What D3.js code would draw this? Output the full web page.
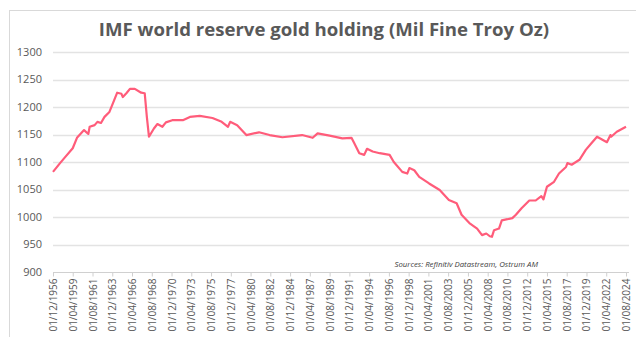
<!DOCTYPE html>
<html>
<head>
<meta charset="utf-8">
<script src="https://cdn.jsdelivr.net/npm/d3@7"></script>
<style>
  body { margin: 0; background: #fff; }
  svg { display: block; }
</style>
</head>
<body>
<div id="chart"></div>
<script>
// IMF gold holdings (month, Mil fine troy oz)
const months = [
  '1956-12','1957-10','1958-04','1959-04','1959-10','1960-08','1961-02','1961-04','1961-11','1962-03',
  '1962-08','1963-01','1963-08','1964-01','1964-07','1965-01','1965-03','1965-08','1966-01','1966-08',
  '1967-05','1967-10','1968-01','1968-04','1968-11','1969-04','1969-11','1970-04','1971-01','1972-04',
  '1973-02','1974-04','1975-10','1976-11','1977-08','1977-11','1978-09','1979-10','1981-04','1982-07',
  '1984-01','1986-05','1987-08','1988-03','1989-08','1991-02','1992-03','1992-07','1993-02','1993-09',
  '1994-01','1994-09','1995-07','1996-09','1997-03','1998-03','1998-10','1999-01','1999-08','2000-03',
  '2001-05','2002-08','2003-09','2004-08','2005-03','2006-02','2007-01','2007-08','2008-02','2008-07',
  '2008-10','2009-01','2009-08','2009-12','2010-08','2011-03','2011-08','2012-04','2013-03','2013-12',
  '2014-08','2014-11','2015-04','2016-02','2016-09','2017-07','2017-09','2018-03','2019-02','2019-11',
  '2020-07','2021-03','2021-10','2022-05','2022-10','2022-11','2023-07','2024-08'
]
const holdings = [
  1082,1098,1107,1125,1144,1158,1151,1164,1167,1173,
  1171,1182,1191,1207,1226,1224,1218,1225,1233,1233,
  1226,1225,1182,1146,1161,1169,1164,1172,1176,1176,
  1182,1184,1180,1173,1164,1173,1167,1149,1154,1149,
  1145,1149,1144,1152,1148,1143,1144,1134,1116,1113,
  1124,1119,1116,1113,1100,1082,1079,1089,1085,1073,
  1061,1049,1031,1025,1004,989,979,967,970,965,
  964,976,979,994,996,998,1004,1016,1030,1030,
  1038,1032,1055,1064,1079,1091,1098,1095,1104,1122,
  1134,1146,1141,1136,1149,1146,1155,1164
]
const xTickLabels = [
  '01/12/1956','01/04/1959','01/08/1961','01/12/1963','01/04/1966','01/08/1968','01/12/1970',
  '01/04/1973','01/08/1975','01/12/1977','01/04/1980','01/08/1982','01/12/1984','01/04/1987',
  '01/08/1989','01/12/1991','01/04/1994','01/08/1996','01/12/1998','01/04/2001','01/08/2003',
  '01/12/2005','01/04/2008','01/08/2010','01/12/2012','01/04/2015','01/08/2017','01/12/2019',
  '01/04/2022','01/08/2024'
]
const yTicks = [900, 950, 1000, 1050, 1100, 1150, 1200, 1250, 1300]

const width = 636, height = 337
const margin = { top: 52, right: 9, bottom: 65, left: 53 }

const parseMonth = d3.timeParse('%Y-%m')
const parseTick = d3.timeParse('%d/%m/%Y')
const data = months.map((m, i) => ({ date: parseMonth(m), value: holdings[i] }))
const tickDates = xTickLabels.map(parseTick)

const svg = d3.select('#chart').append('svg')
  .attr('width', width)
  .attr('height', height)

// chart frame
svg.append('rect')
  .attr('x', 9.5).attr('y', 10.5)
  .attr('width', 640).attr('height', 340)
  .attr('fill', 'none')
  .attr('stroke', '#d9d9d9')

const x = d3.scaleTime()
  .domain([tickDates[0], tickDates[tickDates.length - 1]])
  .range([margin.left, width - margin.right - 1])

const y = d3.scaleLinear()
  .domain([900, 1300])
  .range([height - margin.bottom, margin.top])

// gridlines
svg.append('g')
  .selectAll('line')
  .data(yTicks.slice(1))
  .join('line')
  .attr('x1', margin.left)
  .attr('x2', 629)
  .attr('y1', d => Math.round(y(d)) + 0.5)
  .attr('y2', d => Math.round(y(d)) + 0.5)
  .attr('stroke', '#e3e3e3')
  .attr('stroke-width', 1.5)

// y labels
svg.append('g')
  .selectAll('text')
  .data(yTicks)
  .join('text')
  .attr('x', 42)
  .attr('y', d => y(d))
  .attr('dy', '0.35em')
  .attr('text-anchor', 'end')
  .attr('font-family', 'Open Sans, sans-serif')
  .attr('font-size', 11)
  .attr('fill', '#595959')
  .text(d => d)

// x axis
const xAxis = d3.axisBottom(x)
  .tickValues(tickDates)
  .tickFormat(d3.timeFormat('%d/%m/%Y'))
  .tickSizeInner(4)
  .tickSizeOuter(0)

const gx = svg.append('g')
  .attr('transform', `translate(0,${Math.round(y(900)) + 0.5})`)
  .call(xAxis)

gx.select('.domain').attr('stroke', '#d0d0d0').attr('d', `M${margin.left},0H629`)
gx.selectAll('.tick line').attr('stroke', '#d0d0d0')
gx.selectAll('.tick text')
  .attr('font-family', 'Open Sans, sans-serif')
  .attr('font-size', 10)
  .attr('fill', '#595959')
  .attr('text-anchor', 'end')
  .attr('transform', 'rotate(-90)')
  .attr('x', -6)
  .attr('y', 0)
  .attr('dy', '0.35em')

// line
const line = d3.line()
  .x(d => x(d.date))
  .y(d => y(d.value))

svg.append('path')
  .datum(data)
  .attr('d', line)
  .attr('fill', 'none')
  .attr('stroke', '#ff5c7a')
  .attr('stroke-width', 2.2)
  .attr('stroke-linejoin', 'round')

// title
svg.append('text')
  .attr('x', 324)
  .attr('y', 36)
  .attr('text-anchor', 'middle')
  .attr('font-family', 'Open Sans, sans-serif')
  .attr('font-weight', 700)
  .attr('font-size', 18.6)
  .attr('fill', '#595959')
  .text('IMF world reserve gold holding (Mil Fine Troy Oz)')

// source
svg.append('text')
  .attr('x', 538)
  .attr('y', 267)
  .attr('text-anchor', 'end')
  .attr('font-family', 'Open Sans, sans-serif')
  .attr('font-style', 'italic')
  .attr('font-size', 7.8)
  .attr('fill', '#404040')
  .text('Sources: Refinitiv Datastream, Ostrum AM')
</script>
</body>
</html>
